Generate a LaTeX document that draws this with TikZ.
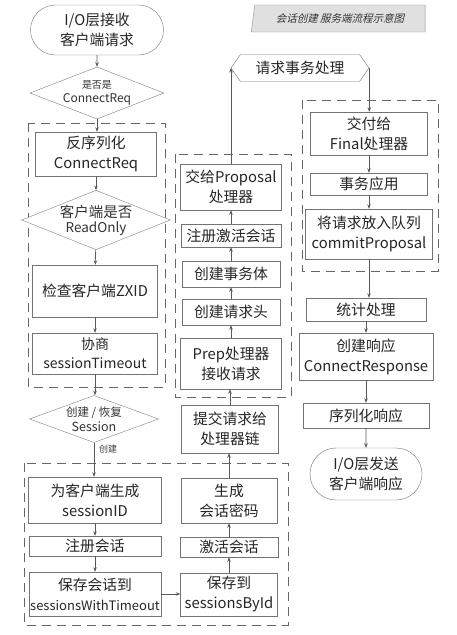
\documentclass[tikz,border=0pt]{standalone}
\usepackage{fontspec}
\setmainfont{Noto Sans CJK SC}
\newfontfamily\slantfont[FakeSlant=0.25]{Noto Sans CJK SC}
\usetikzlibrary{shapes.geometric, shapes.misc, shapes.symbols, arrows.meta}

\tikzset{
  sz/.style 2 args={minimum width=#1pt, minimum height=#2pt},
  procbox/.style={draw=black!55, fill=white, align=center, inner sep=0pt, text=black!85,
    font=\fontsize{14.8}{20}\selectfont},
  termbox/.style={procbox, rounded rectangle},
  choice/.style={draw=black!50, fill=white, diamond, aspect=2.5, inner sep=0pt, align=center, text=black!80},
  grouprect/.style={draw=black!60, dash pattern=on 9pt off 6pt, line width=0.9pt},
  flow/.style={-{Stealth[length=4.5pt, width=3.5pt]}, draw=black!65, line width=0.6pt},
}

\begin{document}
\begin{tikzpicture}[x=1pt, y=-1pt]
  \useasboundingbox (0, 0) rectangle (457, 635);

  \draw[grouprect] (28, 123) rectangle (165, 387);
  \draw[grouprect] (175, 154) rectangle (291, 397);
  \draw[grouprect] (302, 100) rectangle (438, 271);
  \draw[grouprect] (24, 463) rectangle (288, 625);

  \node[draw=black!45, fill=black!12, trapezium, trapezium left angle=75, trapezium right angle=90,
    trapezium stretches=true, sz={174}{27}, inner sep=0pt, text=black!80,
    font=\slantfont\fontsize{10.5}{12}\selectfont] (title) at (340, 18.5) {会话创建\ 服务端流程示意图};

  \node[termbox, sz={133}{50}] (recv) at (97, 30) {I/O层接收\\客户端请求};
  \node[choice, sz={134}{47}] (isreq) at (97, 93)
    {{\fontsize{10}{11}\selectfont 是否是}\\[2pt]{\fontsize{12}{13}\selectfont ConnectReq}};
  \node[procbox, sz={121}{44}] (deser) at (96, 154) {反序列化\\ConnectReq};
  \node[choice, sz={128}{57}] (ronly) at (96, 220)
    {{\fontsize{14.5}{16}\selectfont 客户端是否}\\[3pt]{\fontsize{13.5}{14}\selectfont ReadOnly}};
  \node[procbox, sz={125}{52}] (zxid) at (95, 291) {检查客户端ZXID};
  \node[procbox, sz={125}{41}, font=\fontsize{14}{19}\selectfont] (timeout) at (95, 353.5) {协商\\sessionTimeout};
  \node[choice, sz={129}{40}] (sess) at (94, 419)
    {{\fontsize{11.5}{12}\selectfont 创建 / 恢复}\\[3pt]{\fontsize{12.5}{13}\selectfont Session}};
  \node[text=black!75, font=\fontsize{9}{10}\selectfont] (create) at (108, 449) {创建};

  \node[procbox, sz={133}{46}] (genid) at (95, 500) {为客户端生成\\sessionID};
  \node[procbox, sz={132}{20}] (regsess) at (95, 546) {注册会话};
  \node[procbox, sz={132}{44}, font=\fontsize{13}{20}\selectfont] (savetimeout) at (95, 594)
    {{\fontsize{14.8}{20}\selectfont 保存会话到}\\sessionsWithTimeout};
  \node[procbox, sz={97}{43}] (savebyid) at (229, 594.5) {保存到\\sessionsById};
  \node[procbox, sz={98}{20}] (activate) at (229, 547) {激活会话};
  \node[procbox, sz={96}{45}] (genpwd) at (229, 500.5) {生成\\会话密码};
  \node[procbox, sz={97}{48}] (submit) at (230, 429) {提交请求给\\处理器链};

  \node[procbox, sz={101}{51}] (prep) at (231, 363.5) {Prep处理器\\接收请求};
  \node[procbox, sz={98}{26}] (reqhead) at (231, 312) {创建请求头};
  \node[procbox, sz={98}{26}] (txnbody) at (231, 274) {创建事务体};
  \node[procbox, sz={100}{23}] (regactive) at (231, 235.5) {注册激活会话};
  \node[procbox, sz={101}{46}] (proposal) at (231, 187) {交给Proposal\\处理器};

  \node[procbox, signal, signal to=west and east, signal pointer angle=110, sz={138}{27}] (txn)
    at (300, 68) {请求事务处理};

  \node[procbox, sz={117}{43}] (final) at (369, 133.5) {交付给\\Final处理器};
  \node[procbox, sz={117}{22}] (apply) at (369, 184) {事务应用};
  \node[procbox, sz={127}{50}] (commit) at (369, 234) {将请求放入队列\\commitProposal};
  \node[procbox, sz={120}{23}] (stats) at (366, 309.5) {统计处理};
  \node[procbox, sz={134}{47}] (resp) at (366, 356.5) {创建响应\\ConnectResponse};
  \node[procbox, sz={126}{25}] (serial) at (366, 415.5) {序列化响应};
  \node[termbox, sz={112}{52}] (send) at (366, 474) {I/O层发送\\客户端响应};

  \draw[flow] (recv) -- (isreq);
  \draw[flow] (isreq.south) -- (isreq.south |- deser.north);
  \draw[flow] (deser) -- (ronly);
  \draw[flow] (ronly) -- (zxid);
  \draw[flow] (zxid) -- (timeout);
  \draw[flow] (timeout.south) -- (timeout.south |- sess.north);
  \draw[flow] (sess.south) -- (sess.south |- genid.north);
  \draw[flow] (genid) -- (regsess);
  \draw[flow] (regsess) -- (savetimeout);
  \draw[flow] (savetimeout.east) -- (savetimeout.east -| savebyid.west);
  \draw[flow] (savebyid) -- (activate);
  \draw[flow] (activate) -- (genpwd);
  \draw[flow] (genpwd.north) -- (genpwd.north |- submit.south);
  \draw[flow] (submit.north) -- (submit.north |- prep.south);
  \draw[flow] (prep) -- (reqhead);
  \draw[flow] (reqhead) -- (txnbody);
  \draw[flow] (txnbody) -- (regactive);
  \draw[flow] (regactive) -- (proposal);
  \draw[flow] (proposal.north) -- (proposal.north |- txn.west);
  \draw[flow] (txn.east) -- (txn.east |- final.north);
  \draw[flow] (final) -- (apply);
  \draw[flow] (apply) -- (commit);
  \draw[flow] (commit.south) -- (commit.south |- stats.north);
  \draw[flow] (stats) -- (resp);
  \draw[flow] (resp) -- (serial);
  \draw[flow] (serial) -- (send);
\end{tikzpicture}
\end{document}
